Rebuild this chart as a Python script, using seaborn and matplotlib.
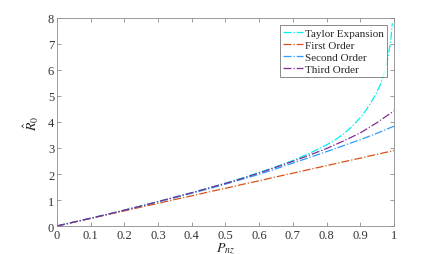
import numpy as np
import pandas as pd
import matplotlib
matplotlib.use("Agg")
import matplotlib.pyplot as plt
import seaborn as sns

# values
p_grid = [0, 0.05, 0.1, 0.15, 0.2, 0.25, 0.3, 0.35, 0.4, 0.45, 0.5,
          0.55, 0.6, 0.65, 0.7, 0.75, 0.8, 0.85, 0.9, 0.95, 1.0]
first_order = [0, 0.15, 0.29, 0.44, 0.58, 0.73, 0.87, 1.02, 1.16, 1.31, 1.45,
               1.60, 1.74, 1.89, 2.03, 2.18, 2.32, 2.47, 2.61, 2.76, 2.90]
second_order = [0, 0.15, 0.30, 0.45, 0.61, 0.77, 0.93, 1.09, 1.26, 1.43, 1.61,
                1.80, 1.99, 2.20, 2.42, 2.64, 2.86, 3.09, 3.32, 3.57, 3.84]
third_order = [0, 0.15, 0.30, 0.45, 0.61, 0.77, 0.94, 1.11, 1.28, 1.46, 1.64,
               1.83, 2.04, 2.26, 2.49, 2.73, 2.98, 3.27, 3.58, 3.98, 4.43]

p_taylor = [0, 0.05, 0.1, 0.15, 0.2, 0.25, 0.3, 0.35, 0.4, 0.45, 0.5,
            0.55, 0.6, 0.65, 0.7, 0.75, 0.8, 0.825, 0.85, 0.875, 0.9,
            0.915, 0.93, 0.945, 0.96, 0.97, 0.98, 0.99, 0.995]
taylor = [0, 0.15, 0.30, 0.45, 0.61, 0.77, 0.94, 1.11, 1.28, 1.46, 1.65,
          1.85, 2.06, 2.28, 2.52, 2.80, 3.12, 3.31, 3.54, 3.82, 4.17,
          4.42, 4.72, 5.05, 5.45, 5.85, 6.35, 7.10, 7.80]

labels = ["Taylor Expansion", "First Order", "Second Order", "Third Order"]
colors = ["#00f0f0", "#d95319", "#2e9bff", "#7e2f8e"]

sns.set_style("ticks")
plt.rcParams["font.family"] = ["Liberation Serif", "DejaVu Serif"]
plt.rcParams["mathtext.fontset"] = "stix"

fig = plt.figure(figsize=(4.36, 2.55), dpi=100)
ax = fig.add_axes([0.1307, 0.1098, 0.773, 0.8157])

series = [(p_taylor, taylor), (p_grid, first_order),
          (p_grid, second_order), (p_grid, third_order)]
for (xs, ys), lab, col in zip(series, labels, colors):
    df = pd.DataFrame({"P": xs, "R": ys})
    sns.lineplot(data=df, x="P", y="R", ax=ax, color=col, lw=0.9,
                 linestyle="-.", label=lab)

ax.set_xlim(0, 1)
ax.set_ylim(0, 8)
ax.set_xticks(np.arange(0, 1.01, 0.1))
ax.set_xticklabels(["0", "0.1", "0.2", "0.3", "0.4", "0.5", "0.6", "0.7", "0.8", "0.9", "1"])
ax.set_yticks(range(0, 9))
ax.set_xlabel(r"$P_{nz}$", fontsize=10, labelpad=0, color="#222222")
ax.set_ylabel(r"$\hat{R}_0$", fontsize=10, labelpad=5, color="#222222")

for sp in ax.spines.values():
    sp.set_visible(True)
    sp.set_color("#8c8c8c")
    sp.set_linewidth(0.6)
ax.tick_params(direction="in", length=3, width=0.6, color="#8c8c8c",
               labelsize=9, labelcolor="#333333", top=True, right=True, pad=2)

leg = ax.legend(loc="upper right", fontsize=8, frameon=True, fancybox=False,
                borderpad=0.3, labelspacing=0.2, handlelength=1.8,
                handletextpad=0.15, borderaxespad=0.6)
leg.get_frame().set_edgecolor("#555555")
leg.get_frame().set_linewidth(0.6)

fig.savefig("out.png", dpi=100)
